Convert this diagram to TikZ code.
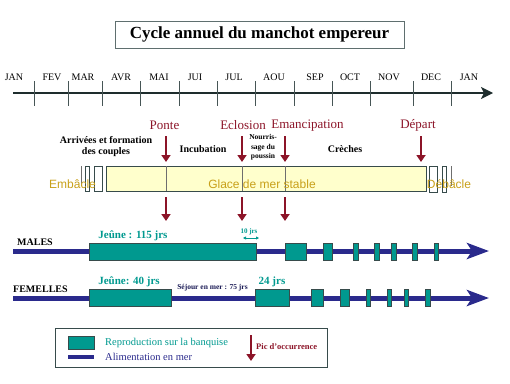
\documentclass[tikz,border=0pt]{standalone}
\usepackage{fontspec}
\setmainfont{Liberation Serif}
\newfontfamily\arialfont{Liberation Sans}
\usetikzlibrary{arrows.meta}
\definecolor{tealbox}{RGB}{0,153,143}
\definecolor{navyline}{RGB}{42,42,140}
\definecolor{darkred}{RGB}{140,20,40}
\definecolor{goldtxt}{RGB}{200,160,25}
\definecolor{icefill}{RGB}{255,255,204}
\definecolor{slate}{RGB}{55,75,75}
\definecolor{axiscol}{RGB}{30,45,45}
\definecolor{tickgray}{RGB}{110,110,110}
\begin{document}
\begin{tikzpicture}[x=1pt,y=-1pt,
  month/.style={font=\fontsize{10}{10}\selectfont,inner sep=0pt},
  evt/.style={text=darkred,font=\fontsize{13}{13}\selectfont,inner sep=0pt},
  evtarrow/.style={darkred,line width=2pt,-{Triangle[length=7pt,width=9pt]}},
  phase/.style={font=\bfseries\fontsize{10}{11}\selectfont,inner sep=0pt,align=center},
  icetxt/.style={text=goldtxt,font=\arialfont\fontsize{12}{12}\selectfont,inner sep=0pt},
  repro/.style={fill=tealbox,draw=slate,line width=0.8pt},
  sea/.style={navyline,line width=5pt,-{Stealth[length=22pt,width=16pt,inset=5pt]}},
  tealtxt/.style={text=tealbox,font=\bfseries\fontsize{11}{11}\selectfont,inner sep=0pt},
  sexlbl/.style={font=\bfseries\fontsize{10}{10}\selectfont,inner sep=0pt,anchor=west},
  icebox/.style={draw=slate,line width=0.8pt}
]
\useasboundingbox (0,0) rectangle (510,383);
% title
\node[draw=slate!80,line width=0.8pt,minimum width=289pt,minimum height=27pt,inner sep=0pt,
  font=\bfseries\fontsize{17}{17}\selectfont] (title) at (259.5,34.5) {Cycle annuel du manchot empereur};
% time axis
\coordinate (ax0) at (13,93);
\coordinate (ax1) at (493,93);
\draw[axiscol,line width=1.5pt,-{Stealth[length=12pt,width=12pt,inset=3pt]}] (ax0) -- (ax1);
\foreach \x in {34,68,102,140,179,217,255,294,332,370,413,451}
  \draw[slate!80!gray,line width=1pt] (\x,81) -- (\x,106);
\foreach \x/\m/\n in {14/JAN/m1,52/FEV/m2,83/MAR/m3,121/AVR/m4,159/MAI/m5,195/JUI/m6,234/JUL/m7,274/AOU/m8,315/SEP/m9,350/OCT/m10,389/NOV/m11,431/DEC/m12,469/JAN/m13}
  \node[month] (\n) at (\x,77) {\m};
% events
\node[evt] (ponte) at (164.5,125.5) {Ponte};
\node[evt] (eclosion) at (243,125.5) {Eclosion};
\node[evt] (emanc) at (307.5,125.5) {Emancipation};
\node[evt] (depart) at (418,125.5) {Départ};
\coordinate (p1) at (166,136); \coordinate (p2) at (166,162);
\coordinate (e1) at (242,136); \coordinate (e2) at (242,162);
\coordinate (m1a) at (285,136); \coordinate (m2a) at (285,162);
\coordinate (d1) at (421,136); \coordinate (d2) at (421,162);
\draw[evtarrow] (p1) -- (p2);
\draw[evtarrow] (e1) -- (e2);
\draw[evtarrow] (m1a) -- (m2a);
\draw[evtarrow] (d1) -- (d2);
% phases
\node[phase] (arrivees) at (106,147) {Arrivées et formation\\des couples};
\node[phase] (incub) at (203,149) {Incubation};
\node[phase,font=\bfseries\fontsize{7.5}{9.5}\selectfont] (nourr) at (263,147.5) {Nourris-\\sage du\\poussin};
\node[phase] (creches) at (345,149) {Crèches};
% ice bar
\fill[icefill] (106,166) rectangle (426,191);
\draw[icebox] (106,166) rectangle (426,191);
\draw[tickgray,line width=0.8pt] (166,166) -- (166,191);
\draw[tickgray,line width=0.8pt] (242,166) -- (242,191);
\draw[tickgray,line width=0.8pt] (285,166) -- (285,191);
\draw[tickgray,line width=0.7pt] (81,166) -- (81,186);
\draw[icebox,line width=0.7pt] (85,166) rectangle (89,191);
\draw[icebox,line width=0.7pt] (94,166) rectangle (102,191);
\draw[icebox,line width=0.7pt] (429,166) rectangle (437,192);
\draw[icebox,line width=0.7pt] (442,166) rectangle (446,192);
\draw[tickgray,line width=0.7pt] (451,166) -- (451,186);
\node[icetxt] (embacle) at (72.5,184) {Embâcle};
\node[icetxt] (glace) at (262,184) {Glace de mer stable};
\node[icetxt] (debacle) at (449,184) {Débâcle};
% lower arrows
\coordinate (p3) at (166,197); \coordinate (p4) at (166,221);
\coordinate (e3) at (242,197); \coordinate (e4) at (242,221);
\coordinate (m3a) at (285,197); \coordinate (m4a) at (285,221);
\draw[evtarrow] (p3) -- (p4);
\draw[evtarrow] (e3) -- (e4);
\draw[evtarrow] (m3a) -- (m4a);
% males
\coordinate (ml0) at (13,251); \coordinate (ml1) at (489,251);
\draw[sea] (ml0) -- (ml1);
\node[sexlbl] (males) at (17,242.5) {MALES};
\foreach \a/\b/\n in {89/256/mb1,285/306/mb2,323/332/mb3,353/358/mb4,374/379/mb5,391/396/mb6,412/417/mb7,434/438/mb8}
  \draw[repro] (\a,243) rectangle (\b,260) coordinate (\n);
\node[tealtxt] (jm) at (133,235.5) {Jeûne : 115 jrs};
\node[text=tealbox,font=\bfseries\fontsize{7}{7}\selectfont,inner sep=0pt] (tenj) at (249,231.5) {10 jrs};
\coordinate (t1) at (243,238); \coordinate (t2) at (259,238);
\draw[tealbox,line width=0.8pt,{Triangle[length=3pt,width=3pt]}-{Triangle[length=3pt,width=3pt]}] (t1) -- (t2);
% females
\coordinate (fl0) at (13,298); \coordinate (fl1) at (489,298);
\draw[sea] (fl0) -- (fl1);
\node[sexlbl] (femelles) at (13,289.5) {FEMELLES};
\foreach \a/\b/\n in {89/171/fb1,255/289/fb2,311/323/fb3,340/349/fb4,366/370/fb5,387/391/fb6,404/408/fb7,425/430/fb8}
  \draw[repro] (\a,289) rectangle (\b,306.5) coordinate (\n);
\node[tealtxt] (jf) at (129,282) {Jeûne: 40 jrs};
\node[tealtxt] (j24) at (272,282) {24 jrs};
\node[font=\bfseries\fontsize{7.5}{7.5}\selectfont,text=navyline!60!black,inner sep=0pt] (sejour) at (212.5,288) {Séjour en mer : 75 jrs};
% legend
\node[draw=slate,line width=0.8pt,minimum width=272pt,minimum height=39pt,inner sep=0pt] (legend) at (191,347.5) {};
\draw[repro] (68,336) rectangle (94,349);
\draw[navyline,line width=4pt] (68,357) -- (94,357);
\node[text=tealbox,font=\fontsize{10.5}{10.5}\selectfont,inner sep=0pt,anchor=west] (lrep) at (105,343) {Reproduction sur la banquise};
\node[text=navyline,font=\fontsize{10.5}{10.5}\selectfont,inner sep=0pt,anchor=west] (lali) at (105,357) {Alimentation en mer};
\coordinate (la1) at (251,335); \coordinate (la2) at (251,361);
\draw[evtarrow] (la1) -- (la2);
\node[text=darkred,font=\bfseries\fontsize{8.5}{8.5}\selectfont,inner sep=0pt,anchor=west] (lpic) at (256,347) {Pic d'occurrence};
\end{tikzpicture}
\end{document}
